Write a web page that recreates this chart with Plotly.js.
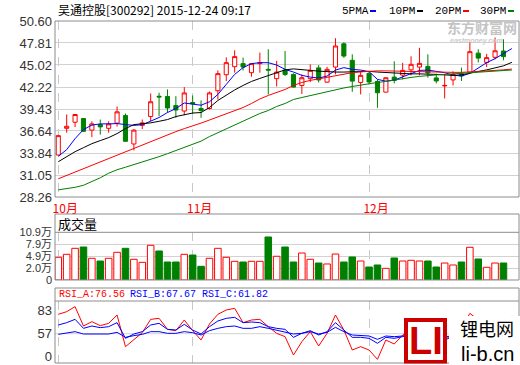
<!DOCTYPE html>
<html><head><meta charset="utf-8">
<script src="https://cdn.plot.ly/plotly-3.0.1.min.js"></script>
<style>html,body{margin:0;padding:0;background:#fff}#chart{width:520px;height:365px}</style>
</head><body><div id="chart"></div>
<script>
// ---------------- data ----------------
const stockName = '吴通控股';
const stockCode = '300292';
const stamp = '2015-12-24 09:17';

const monthIdx = [0, 16, 37];
const monthLabels = ['10月', '11月', '12月'];

const priceTicks = [28.26, 31.05, 33.84, 36.64, 39.43, 42.22, 45.02, 47.81, 50.60];
const volTickText = ['0', '2.0万', '4.9万', '7.9万', '10.9万'];
const volMax = 10.9;
const rsiTickVals = [32.5, 57, 83];
const rsiTickText = ['0', '57', '83'];

const maNames = ['5PMA', '10PM', '20PM', '30PM'];

const open  = [33.59,36.98,37.75,38.22,36.75,37.45,36.98,37.64,38.60,34.99,37.36,38.47,41.05,41.02,39.87,39.17,40.26,39.49,39.49,41.75,43.78,44.80,45.19,44.04,45.19,44.46,43.28,44.37,43.82,42.42,43.28,44.65,42.84,44.75,47.71,45.61,42.80,43.95,42.93,41.57,43.48,43.73,44.40,44.75,44.84,43.38,42.36,43.12,43.89,44.09,46.52,45.35,45.99,46.79];
const high  = [36.15,38.73,38.80,38.25,37.87,38.09,37.87,39.75,38.86,36.88,38.09,41.40,41.49,41.91,41.06,42.21,41.15,40.51,41.66,44.33,45.99,46.88,45.95,45.20,46.59,47.01,45.54,46.79,43.95,43.82,45.10,45.01,44.78,48.41,47.90,46.37,44.12,44.21,43.19,43.44,45.48,45.29,46.12,47.20,46.37,43.91,43.82,44.21,44.68,47.94,47.01,46.43,48.50,48.28];
const low   = [33.55,36.43,37.14,36.55,35.86,36.18,36.43,37.20,35.33,34.17,36.88,37.90,38.51,38.98,38.31,38.64,38.82,38.31,39.36,40.64,42.97,44.04,44.33,43.53,44.04,41.28,42.29,43.61,42.17,41.34,42.84,42.80,42.77,43.82,45.92,41.62,41.28,42.55,39.58,41.53,42.68,43.19,43.70,43.70,43.40,42.68,40.77,42.42,42.99,44.00,45.35,44.75,45.73,45.61];
const close = [36.05,37.24,38.73,36.60,37.54,37.16,37.54,39.07,35.33,36.75,37.67,40.35,40.96,39.56,39.30,41.47,40.09,39.24,41.47,43.92,45.31,46.08,44.75,45.19,45.31,44.37,44.12,43.82,42.21,43.40,44.33,43.12,44.46,47.43,46.15,42.97,43.70,42.87,41.49,43.40,43.06,44.33,45.10,45.22,44.01,42.99,42.42,43.82,43.63,46.71,45.89,45.95,46.82,46.08];

const ma5  = [33.42,34.27,35.67,36.82,37.39,37.54,37.54,37.58,37.45,37.35,37.43,37.87,38.35,38.98,39.49,40.19,40.07,39.91,40.35,41.28,42.55,43.82,44.68,45.19,45.31,45.31,45.01,44.46,44.12,43.70,43.48,43.35,43.61,44.37,44.68,44.46,44.37,44.17,43.19,42.97,43.10,43.53,43.95,44.33,44.37,44.24,44.04,43.73,43.61,43.95,44.68,45.31,45.82,46.46,47.10];
const ma10 = [32.74,33.38,34.01,34.52,35.03,35.42,35.80,36.31,36.94,37.45,37.54,37.67,37.87,38.09,38.47,38.73,38.92,38.98,39.62,40.51,41.21,41.85,42.42,42.93,43.31,43.70,44.08,44.40,44.52,44.46,44.33,44.24,44.14,44.12,44.12,44.17,44.21,44.21,44.12,44.04,44.01,43.95,43.89,43.89,43.89,43.82,43.76,43.70,43.76,43.95,44.21,44.40,44.65,44.91,45.35];
const ma20 = [30.57,31.00,31.40,31.85,32.29,32.74,33.19,33.61,34.01,34.46,34.91,35.35,35.73,36.14,36.56,36.94,37.26,37.64,38.03,38.41,38.79,39.17,39.62,40.13,40.70,41.15,41.53,41.91,42.42,42.80,43.06,43.25,43.44,43.63,43.89,44.04,44.14,44.24,44.27,44.27,44.24,44.21,44.14,44.12,44.08,44.08,44.08,44.08,44.08,44.12,44.21,44.27,44.33,44.40,44.50];
const ma30 = [29.17,29.30,29.49,29.75,30.19,30.70,31.28,31.72,32.04,32.36,32.74,33.06,33.38,33.76,34.14,34.52,34.91,35.35,35.93,36.43,36.88,37.33,37.84,38.35,38.86,39.24,39.75,40.13,40.64,40.89,41.15,41.40,41.66,41.91,42.10,42.29,42.49,42.68,42.80,42.93,43.12,43.31,43.44,43.57,43.70,43.76,43.82,43.89,43.95,44.01,44.08,44.14,44.21,44.27,44.38];

const volume = [5.19,5.87,7.24,7.54,4.96,4.34,4.96,6.33,7.24,4.73,4.04,7.93,6.63,4.11,4.11,5.87,5.71,3.13,4.96,7.24,5.19,4.27,4.11,4.27,4.27,9.83,5.42,7.54,4.11,6.17,4.73,3.88,3.66,5.94,4.11,5.26,4.34,2.97,3.43,2.67,5.03,4.34,4.50,4.34,4.34,2.97,3.88,3.43,4.11,7.47,4.80,2.90,3.88,3.88];

const rsiA = [78.24,81.17,86.65,65.44,70.20,65.81,68.37,77.51,42.77,50.08,58.13,72.76,73.85,61.79,60.32,72.03,60.32,50.08,67.64,78.24,83.00,84.83,69.10,72.03,72.76,64.71,57.40,53.74,33.63,48.26,59.23,43.50,57.40,77.51,61.05,39.11,42.77,39.11,28.87,50.08,45.70,55.57,62.88,64.71,39.11,31.80,50.08,53.74,62.88,79.34,72.03,70.20,68.37,57.40,76.56];
const rsiB = [66.54,69.10,72.76,62.88,65.44,63.61,64.71,69.10,51.91,56.67,59.23,66.54,68.37,61.79,61.05,67.27,61.05,56.67,64.71,70.93,73.85,74.95,69.10,69.83,69.10,64.71,62.88,61.79,53.01,57.40,60.32,55.57,59.23,69.10,61.05,53.01,53.01,51.91,46.43,53.01,51.91,53.74,56.67,57.40,48.26,42.77,51.91,53.01,57.40,62.88,61.05,61.05,59.23,59.23,67.67];
const rsiC = [56.30,58.13,59.23,56.67,56.67,56.67,56.67,58.50,53.01,54.84,56.30,59.23,59.23,57.40,57.40,59.23,58.13,55.57,60.32,62.88,64.71,65.44,62.88,62.88,64.71,62.88,61.05,59.23,56.67,57.40,59.23,56.67,58.50,63.98,59.23,55.57,54.84,54.47,50.82,54.47,53.74,54.47,56.67,56.67,51.91,49.35,53.74,54.47,57.40,60.32,59.23,59.23,58.13,58.13,61.82];

// ---------------- styling ----------------
const RED = '#ff0000', GREEN = '#008000', BLUE = '#0000ff', BLACK = '#000000';
const maColors = [BLUE, BLACK, RED, GREEN];
const CJK = '"Noto Sans CJK SC", sans-serif';
const NUM = '"Liberation Sans", "Noto Sans CJK SC", Arial, sans-serif';
const MONO = '"Liberation Mono", "Noto Sans CJK SC", monospace';
const FRAME = '#8c8c8c', GRID = '#d2d2d2';

const W = 520, H = 365, M = {l: 55, r: 1, t: 21, b: 2};
const fx = px => (px - M.l) / (W - M.l - M.r);
const fy = py => (H - M.b - py) / (H - M.t - M.b);

const idx = a => a.map((_, i) => i);
const cx = idx(close);
const lx = idx(ma5);
const upI = cx.filter(i => close[i] >= open[i]);
const dnI = cx.filter(i => close[i] < open[i]);

const traces = [
  {type: 'candlestick', x: cx, open: open, high: high, low: low, close: close,
   xaxis: 'x', yaxis: 'y', whiskerwidth: 0,
   increasing: {line: {color: RED, width: 1}, fillcolor: '#ffffff'},
   decreasing: {line: {color: GREEN, width: 1}, fillcolor: GREEN},
   hoverinfo: 'skip', showlegend: false}
];
[ma5, ma10, ma20, ma30].forEach((s, k) => traces.push({
  type: 'scatter', mode: 'lines', x: lx, y: s, xaxis: 'x', yaxis: 'y',
  line: {color: maColors[k], width: 1}, name: maNames[k], showlegend: false, hoverinfo: 'skip'}));
traces.push({type: 'bar', x: upI, y: upI.map(i => volume[i]), xaxis: 'x2', yaxis: 'y2', width: 0.78,
  marker: {color: '#ffffff', line: {color: RED, width: 1}}, showlegend: false, hoverinfo: 'skip'});
traces.push({type: 'bar', x: dnI, y: dnI.map(i => volume[i]), xaxis: 'x2', yaxis: 'y2', width: 0.78,
  marker: {color: GREEN, line: {color: GREEN, width: 1}}, showlegend: false, hoverinfo: 'skip'});
[[rsiA, RED], [rsiB, BLUE], [rsiC, BLUE]].forEach(([s, c]) => traces.push({
  type: 'scatter', mode: 'lines', x: idx(s), y: s, xaxis: 'x3', yaxis: 'y3',
  line: {color: c, width: 1}, showlegend: false, hoverinfo: 'skip'}));

const xRange = [-0.39, 54.85];
const xCommon = {range: xRange, tickvals: monthIdx, ticktext: monthLabels, ticks: '',
  showgrid: true, gridcolor: '#c8c8c8', griddash: 'dash', gridwidth: 1, zeroline: false, showline: false,
  fixedrange: true};
const yFont = {family: NUM, size: 13, color: '#333333'};
const volFont = {family: NUM, size: 11, color: '#333333'};

const rsiHeader = [['RSI_A', rsiA, RED, 57], ['RSI_B', rsiB, BLUE, 128], ['RSI_C', rsiC, BLUE, 200]];

const annotations = [
  {xref: 'paper', yref: 'paper', x: fx(56), y: fy(10), xanchor: 'left', yanchor: 'middle', showarrow: false,
   text: `${stockName}[${stockCode}] ${stamp}`, font: {family: CJK, size: 12, color: '#000'}},
  {xref: 'paper', yref: 'paper', x: fx(56), y: fy(223), xanchor: 'left', yanchor: 'middle', showarrow: false,
   text: '成交量', font: {family: CJK, size: 13, color: '#000'}},
  {xref: 'paper', yref: 'paper', x: fx(445), y: fy(27), xanchor: 'left', yanchor: 'middle', showarrow: false,
   text: '<b>东方财富网</b>', font: {family: CJK, size: 14, color: '#c4c4c4'}},
  {xref: 'paper', yref: 'paper', x: fx(448), y: fy(41), xanchor: 'left', yanchor: 'middle', showarrow: false,
   text: '<b><i>eastmoney.com</i></b>', font: {family: NUM, size: 7, color: '#cccccc'}},
  {xref: 'paper', yref: 'paper', x: fx(425.5), y: fy(341), xanchor: 'center', yanchor: 'middle', showarrow: false,
   text: '<b>LI</b>', font: {family: NUM, size: 38, color: '#cc0000'}},
  {xref: 'paper', yref: 'paper', x: fx(487), y: fy(328), xanchor: 'center', yanchor: 'middle', showarrow: false,
   text: '锂电网', font: {family: CJK, size: 18, color: '#000'}, borderpad: 0},
  {xref: 'paper', yref: 'paper', x: fx(487), y: fy(353.5), xanchor: 'center', yanchor: 'middle', showarrow: false,
   text: 'li-b.cn', font: {family: NUM, size: 20, color: '#000'}, borderpad: 0}
];
const legX = [340, 387, 433, 478];
maNames.forEach((n, k) => annotations.push({xref: 'paper', yref: 'paper', x: fx(legX[k]), y: fy(11),
  xanchor: 'left', yanchor: 'middle', showarrow: false, text: n, font: {family: MONO, size: 11, color: '#000'}}));
rsiHeader.forEach(([n, s, c, px]) => annotations.push({xref: 'paper', yref: 'paper', x: fx(px), y: fy(294.5),
  xanchor: 'left', yanchor: 'middle', showarrow: false, text: `${n}:${s[s.length - 1].toFixed(2)}`,
  font: {family: MONO, size: 10, color: c}}));

const shapes = [
  {type: 'line', xref: 'paper', x0: 0, x1: 1, yref: 'y3', y0: 57, y1: 57, line: {color: GRID, width: 1}, layer: 'below'},
  {type: 'rect', xref: 'paper', yref: 'paper', x0: 0, x1: 1, y0: fy(197), y1: 1, line: {color: FRAME, width: 1}},
  {type: 'rect', xref: 'paper', yref: 'paper', x0: 0, x1: 1, y0: fy(280), y1: fy(214), line: {color: FRAME, width: 1}},
  {type: 'line', xref: 'paper', yref: 'paper', x0: 0, x1: 1, y0: fy(232.3), y1: fy(232.3), line: {color: FRAME, width: 1}},
  {type: 'rect', xref: 'paper', yref: 'paper', x0: 0, x1: 1, y0: 0, y1: fy(288), line: {color: FRAME, width: 1}},
  {type: 'line', xref: 'paper', yref: 'paper', x0: 0, x1: 1, y0: fy(301), y1: fy(301), line: {color: FRAME, width: 1}},
  {type: 'rect', xref: 'paper', yref: 'paper', x0: fx(404), x1: fx(447), y0: fy(363.5), y1: fy(318), fillcolor: '#cc0000', line: {width: 0}},
  {type: 'rect', xref: 'paper', yref: 'paper', x0: fx(408), x1: fx(443), y0: fy(360), y1: fy(322), fillcolor: '#ffffff', line: {width: 0}},
  {type: 'rect', xref: 'paper', yref: 'paper', x0: fx(449), x1: fx(520), y0: fy(364), y1: fy(316), fillcolor: '#ffffff', line: {width: 0}}
];
maColors.forEach((c, k) => shapes.push({type: 'line', xref: 'paper', yref: 'paper',
  x0: fx(legX[k] + 30), x1: fx(legX[k] + 36), y0: fy(11), y1: fy(11), line: {color: c, width: 2}}));

const layout = {
  width: W, height: H, margin: M, paper_bgcolor: '#fff', plot_bgcolor: '#fff', showlegend: false,
  hovermode: false, dragmode: false,
  xaxis: Object.assign({}, xCommon, {anchor: 'y', domain: [0, 1], rangeslider: {visible: false},
    tickfont: {family: CJK, size: 12, color: RED}, ticklabelshift: 7, ticklabelstandoff: 3}),
  xaxis2: Object.assign({}, xCommon, {anchor: 'y2', domain: [0, 1], showticklabels: false}),
  xaxis3: Object.assign({}, xCommon, {anchor: 'y3', domain: [0, 1], showticklabels: false}),
  yaxis: {anchor: 'x', domain: [fy(197), 1], range: [priceTicks[0], priceTicks[priceTicks.length - 1]],
    tickvals: priceTicks, ticktext: priceTicks.map(v => v.toFixed(2)), tickfont: yFont, ticks: '',
    gridcolor: GRID, zeroline: false, showline: false, fixedrange: true, ticklabelstandoff: 2},
  yaxis2: {anchor: 'x2', domain: [fy(280), fy(232.3)], range: [0, volMax],
    tickvals: volTickText.map((_, k) => volMax * k / (volTickText.length - 1)), ticktext: volTickText,
    tickfont: volFont, ticks: '', gridcolor: GRID, zeroline: false, showline: false, fixedrange: true, ticklabelstandoff: 2},
  yaxis3: {anchor: 'x3', domain: [0, fy(301)], range: [24.86, 92.87], tickvals: rsiTickVals, ticktext: rsiTickText,
    tickfont: yFont, ticks: '', showgrid: false, zeroline: false, showline: false, fixedrange: true, ticklabelstandoff: 2},
  annotations: annotations, shapes: shapes
};

Plotly.newPlot('chart', traces, layout, {staticPlot: true, displayModeBar: false});
</script></body></html>
